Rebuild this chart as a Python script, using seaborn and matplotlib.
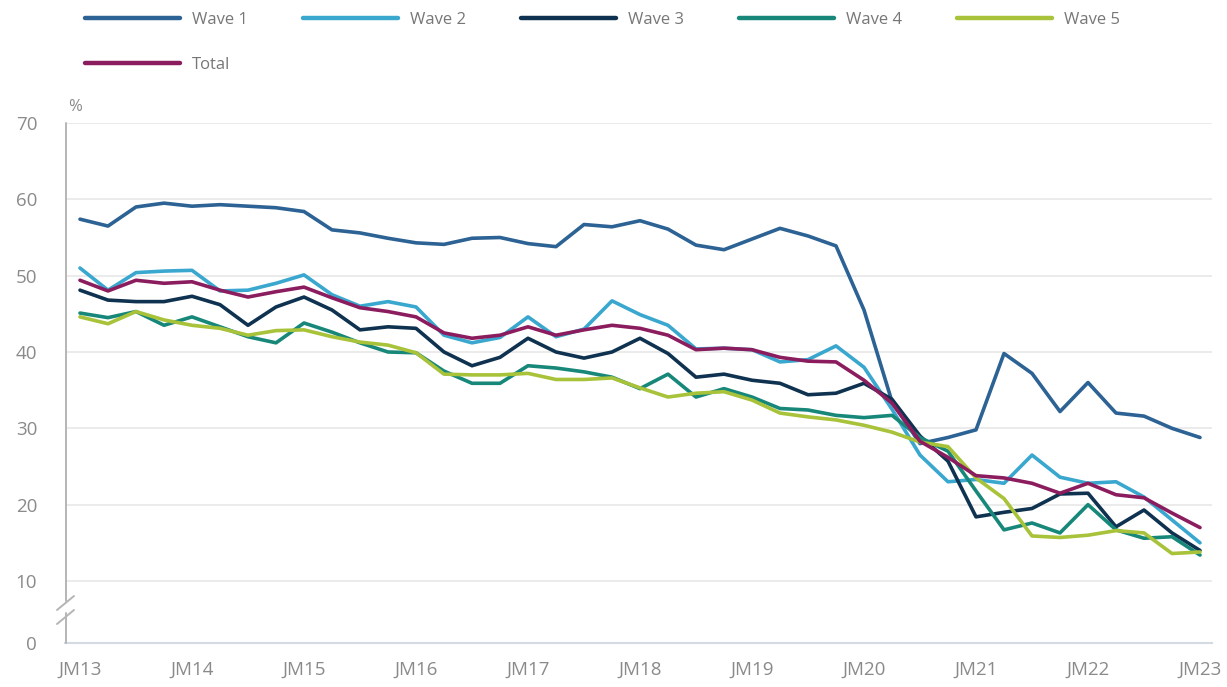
import numpy as np
import pandas as pd
import matplotlib
matplotlib.use("Agg")
import matplotlib.pyplot as plt
import seaborn as sns
from matplotlib.lines import Line2D

# ---------------- data ----------------
quarters = list(range(41))  # JM13 .. JM23, quarterly
year_ticks = [0, 4, 8, 12, 16, 20, 24, 28, 32, 36, 40]
tick_labels = ["JM13", "JM14", "JM15", "JM16", "JM17", "JM18",
               "JM19", "JM20", "JM21", "JM22", "JM23"]

wave1 = [57.4, 56.5, 59.0, 59.5, 59.1, 59.3, 59.1, 58.9, 58.4, 56.0,
         55.6, 54.9, 54.3, 54.1, 54.9, 55.0, 54.2, 53.8, 56.7, 56.4,
         57.2, 56.1, 54.0, 53.4, 54.8, 56.2, 55.2, 53.9, 45.5, 33.5,
         28.0, 28.8, 29.8, 39.8, 37.2, 32.2, 36.0, 32.0, 31.6, 30.0, 28.8]
wave2 = [51.0, 48.1, 50.4, 50.6, 50.7, 48.0, 48.1, 49.0, 50.1, 47.5,
         46.0, 46.6, 45.9, 42.2, 41.2, 41.9, 44.6, 42.0, 43.0, 46.7,
         44.9, 43.5, 40.4, 40.5, 40.3, 38.7, 39.0, 40.8, 38.0, 32.5,
         26.5, 23.0, 23.3, 22.8, 26.5, 23.6, 22.8, 23.0, 21.0, 18.0, 15.0]
wave3 = [48.1, 46.8, 46.6, 46.6, 47.3, 46.2, 43.5, 45.9, 47.2, 45.5,
         42.9, 43.3, 43.1, 40.0, 38.2, 39.3, 41.8, 40.0, 39.2, 40.0,
         41.8, 39.8, 36.7, 37.1, 36.3, 35.9, 34.4, 34.6, 35.9, 33.8,
         29.0, 25.7, 18.4, 19.0, 19.5, 21.4, 21.5, 17.1, 19.3, 16.3, 14.0]
wave4 = [45.1, 44.5, 45.3, 43.5, 44.6, 43.3, 42.0, 41.2, 43.8, 42.6,
         41.2, 40.0, 39.9, 37.5, 35.9, 35.9, 38.2, 37.9, 37.4, 36.7,
         35.2, 37.1, 34.1, 35.2, 34.1, 32.6, 32.4, 31.7, 31.4, 31.7,
         28.8, 27.0, 21.8, 16.7, 17.6, 16.3, 20.0, 16.7, 15.6, 15.8, 13.4]
wave5 = [44.6, 43.7, 45.3, 44.2, 43.5, 43.1, 42.2, 42.8, 42.9, 42.0,
         41.3, 40.9, 39.9, 37.1, 37.0, 37.0, 37.2, 36.4, 36.4, 36.6,
         35.3, 34.1, 34.6, 34.8, 33.7, 32.0, 31.5, 31.1, 30.4, 29.5,
         28.2, 27.6, 23.5, 20.8, 15.9, 15.7, 16.0, 16.6, 16.3, 13.6, 13.8]
total = [49.4, 48.0, 49.4, 49.0, 49.2, 48.1, 47.2, 47.9, 48.5, 47.1,
         45.8, 45.3, 44.6, 42.5, 41.8, 42.2, 43.3, 42.2, 42.9, 43.5,
         43.1, 42.2, 40.3, 40.5, 40.3, 39.3, 38.8, 38.7, 36.3, 33.3,
         28.3, 26.2, 23.8, 23.5, 22.8, 21.5, 22.8, 21.3, 20.9, 18.9, 17.0]

series_names = ["Wave 1", "Wave 2", "Wave 3", "Wave 4", "Wave 5", "Total"]
series_values = [wave1, wave2, wave3, wave4, wave5, total]
colors = ["#2c6294", "#3aa7cf", "#0e3250", "#17877a", "#a8c23a", "#8b1d5f"]
y_ticks = [10, 20, 30, 40, 50, 60, 70]

# ---------------- figure ----------------
W, H = 1227, 687
sns.set_theme(style="white")
plt.rcParams["font.family"] = ["Open Sans", "DejaVu Sans"]

fig = plt.figure(figsize=(W / 100, H / 100), dpi=100)
ax = fig.add_axes([65 / W, 1 - 643 / H, (1212 - 65) / W, (643 - 123) / H])

df = pd.concat([pd.DataFrame({"q": quarters, "value": v, "series": n})
                for n, v in zip(series_names, series_values)], ignore_index=True)
palette = dict(zip(series_names, colors))
sns.lineplot(data=df, x="q", y="value", hue="series", hue_order=series_names,
             palette=palette, linewidth=2.6, ax=ax, legend=False)

# broken y axis: "0" placed below 10 with a gap
BREAK = 10 - 62 / 7.633
ax.set_ylim(BREAK, 70)
ax.set_xlim(-15 / 28, 40 + 12 / 28)
ax.set_yticks([BREAK] + y_ticks)
ax.set_yticklabels(["0"] + [str(t) for t in y_ticks])
ax.set_xticks(year_ticks)
ax.set_xticklabels(tick_labels)
ax.set_xlabel("")
ax.set_ylabel("")

for t in y_ticks:
    ax.axhline(t, color="#e9e9e9", lw=1.3, zorder=0)

for s in ["top", "right", "left"]:
    ax.spines[s].set_visible(False)
ax.spines["bottom"].set_color("#d3dae3")
ax.spines["bottom"].set_linewidth(1.5)

ax.tick_params(axis="y", length=0, pad=20, labelsize=13.5, labelcolor="#8a8a8a")
ax.tick_params(axis="x", length=11, width=1, color="#d3dae3", pad=1.5,
               labelsize=13.5, labelcolor="#8a8a8a")
ax.grid(False)


def fline(x1, y1, x2, y2, **kw):
    fig.add_artist(Line2D([x1 / W, x2 / W], [1 - y1 / H, 1 - y2 / H],
                          transform=fig.transFigure, **kw))


# y axis line with break marks
axis_c = "#b5b5b5"
fline(66, 123, 66, 601, color=axis_c, lw=1.4)
fline(66, 613, 66, 643, color=axis_c, lw=1.4)
fline(57, 610, 74, 596, color=axis_c, lw=1.4)
fline(57, 624, 74, 610, color=axis_c, lw=1.4)

fig.text(75 / W, 1 - 107 / H, "%", ha="center", va="center",
         color="#8a8a8a", fontsize=12)

# legend: row 1 Wave 1..5, row 2 Total
order = [0, 5, 1, 2, 3, 4]
handles = [Line2D([0], [0], color=colors[i], lw=3.2) for i in order]
labels = [series_names[i] for i in order]
fig.legend(handles, labels, loc="upper left",
           bbox_to_anchor=(85 / W, 1 - 12 / H), ncol=5, frameon=False,
           borderpad=0, borderaxespad=0, handlelength=5.7,
           handletextpad=0.72, columnspacing=3.3, labelspacing=1.75,
           fontsize=12, labelcolor="#777777")

fig.savefig("out.png", dpi=100, facecolor="white")
